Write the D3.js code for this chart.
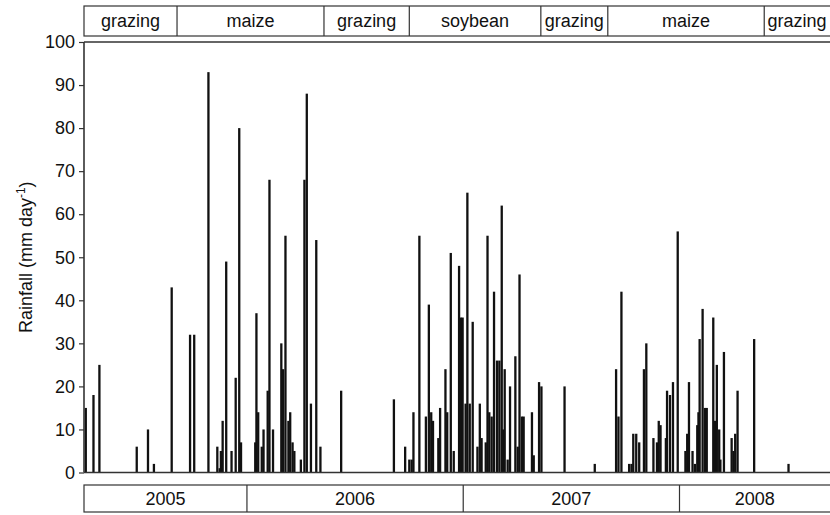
<!DOCTYPE html>
<html>
<head>
<meta charset="utf-8">
<script src="https://cdn.jsdelivr.net/npm/d3@7.9.0/dist/d3.min.js"></script>
<style>
  body { margin: 0; background: #fff; }
  svg { display: block; font-family: "Liberation Sans", Arial, sans-serif; }
</style>
</head>
<body>
<svg id="chart" width="830" height="515"></svg>
<script>
// daily rainfall events: day counted from 1 Jan 2005, and mm per day
const rainDays = [
  93, 106, 116, 179, 198, 208, 238, 269, 276, 300, 315, 319, 321, 324, 330, 339, 346, 352, 355,
  379, 381, 384, 390, 393, 400, 403, 409, 423, 426, 430, 435, 438, 442, 445, 456, 462, 466,
  473, 482, 489, 524, 613, 632, 639, 643, 646, 656, 667, 672, 676, 679, 688, 691, 700, 703,
  709, 714, 723, 726, 729,
  734, 737, 741, 746, 754, 758, 761, 768, 771, 774, 778, 782, 787, 791, 795, 797, 800, 805,
  809, 818, 822, 825, 829, 832, 846, 849, 858, 862, 901, 952, 988, 992, 997, 1010, 1014,
  1017, 1022, 1027, 1035, 1039, 1051, 1057, 1060, 1063, 1072, 1074, 1079, 1084, 1092,
  1105, 1108, 1111, 1117, 1121, 1125, 1127, 1129, 1134, 1138, 1141, 1152, 1155, 1158, 1162,
  1164, 1170, 1183, 1186, 1189, 1193, 1221, 1279
];
const rainMm = [
  15, 18, 25, 6, 10, 2, 43, 32, 32, 93, 6, 1, 5, 12, 49, 5, 22, 80, 7,
  7, 37, 14, 6, 10, 19, 68, 10, 30, 24, 55, 12, 14, 7, 5, 3, 68, 88,
  16, 54, 6, 19, 17, 6, 3, 3, 14, 55, 13, 39, 14, 12, 8, 15, 24, 14,
  51, 5, 48, 36, 36,
  16, 65, 16, 35, 6, 16, 8, 7, 55, 14, 13, 42, 26, 26, 62, 10, 24, 3,
  20, 27, 6, 46, 13, 13, 14, 4, 21, 20, 20, 2, 24, 13, 42, 2, 2,
  9, 9, 7, 24, 30, 8, 7, 12, 11, 8, 19, 18, 21, 56,
  5, 9, 21, 5, 2, 11, 14, 31, 38, 15, 15, 36, 12, 25, 10,
  3, 28, 8, 5, 9, 19, 31, 2
];

const crops = ['grazing', 'maize', 'grazing', 'soybean', 'grazing', 'maize', 'grazing'];
const cropStarts = ['2005-04-01', '2005-09-05', '2006-05-11', '2006-10-02', '2007-05-12', '2007-09-02', '2008-05-23'];
const years = ['2005', '2006', '2007', '2008'];
const yTicks = [0, 10, 20, 30, 40, 50, 60, 70, 80, 90, 100];

const parse = d3.timeParse('%Y-%m-%d');
const origin = new Date(2005, 0, 1);
const start = parse('2005-04-01');
const end = parse('2008-09-11');

const svg = d3.select('#chart');

const x = d3.scaleTime()
  .domain([start, end])
  .range([84, 830]);

const y = d3.scaleLinear()
  .domain([0, 100])
  .range([472.5, 42]);

const rain = rainDays.map((d, i) => ({ date: d3.timeDay.offset(origin, d), mm: rainMm[i] }));

// bars
const barW = 2.3;
svg.append('g')
  .selectAll('rect')
  .data(rain)
  .join('rect')
  .attr('x', d => x(d.date) - barW / 2)
  .attr('y', d => y(d.mm))
  .attr('width', barW)
  .attr('height', d => y(0) - y(d.mm))
  .attr('fill', '#111');

// y axis
const yAxis = svg.append('g')
  .attr('transform', `translate(${x.range()[0]},0)`)
  .call(d3.axisLeft(y).tickValues(yTicks).tickSize(5).tickSizeOuter(0).tickPadding(4));
yAxis.select('.domain').remove();
yAxis.selectAll('.tick line').attr('stroke', '#333').attr('stroke-width', 1.2);
yAxis.selectAll('.tick text')
  .attr('font-size', 18)
  .attr('font-family', '"Liberation Sans", Arial, sans-serif')
  .attr('fill', '#111');

// frame lines
const frame = svg.append('g').attr('stroke', '#333').attr('stroke-width', 1.6);
frame.append('line').attr('x1', x.range()[0]).attr('x2', x.range()[0]).attr('y1', y(100)).attr('y2', y(0));
frame.append('line').attr('x1', x.range()[0]).attr('x2', 830).attr('y1', y(100)).attr('y2', y(100));
frame.append('line').attr('x1', x.range()[0]).attr('x2', 830).attr('y1', y(0)).attr('y2', y(0));

// y title
svg.append('text')
  .attr('transform', `translate(32,${(y(0) + y(100)) / 2}) rotate(-90)`)
  .attr('text-anchor', 'middle')
  .attr('font-size', 18)
  .attr('fill', '#111')
  .call(t => {
    t.append('tspan').text('Rainfall (mm day');
    t.append('tspan').attr('font-size', 12).attr('dy', -7).text('-1');
    t.append('tspan').attr('dy', 7).text(')');
  });

// band helper: boxes with dividers and centered labels
function band(segments, top, bottom) {
  const g = svg.append('g');
  g.append('rect')
    .attr('x', x.range()[0])
    .attr('y', top)
    .attr('width', 830 - x.range()[0] + 5)
    .attr('height', bottom - top)
    .attr('fill', 'none')
    .attr('stroke', '#333')
    .attr('stroke-width', 1.2);
  g.selectAll('line')
    .data(segments.slice(1))
    .join('line')
    .attr('x1', d => x(d.from)).attr('x2', d => x(d.from))
    .attr('y1', top).attr('y2', bottom)
    .attr('stroke', '#333')
    .attr('stroke-width', 1.2);
  g.selectAll('text')
    .data(segments)
    .join('text')
    .attr('x', d => (x(d.from) + x(d.to)) / 2)
    .attr('y', (top + bottom) / 2)
    .attr('dy', '0.35em')
    .attr('text-anchor', 'middle')
    .attr('font-size', 18)
    .attr('fill', '#111')
    .text(d => d.label);
}

const cropSegs = crops.map((c, i) => ({
  label: c,
  from: parse(cropStarts[i]),
  to: i < crops.length - 1 ? parse(cropStarts[i + 1]) : end
}));
band(cropSegs, 6, 36);

const yearSegs = years.map(yr => {
  const a = new Date(+yr, 0, 1), b = new Date(+yr + 1, 0, 1);
  return { label: yr, from: a < start ? start : a, to: b > end ? end : b };
});
band(yearSegs, 485, 512);
</script>
</body>
</html>
